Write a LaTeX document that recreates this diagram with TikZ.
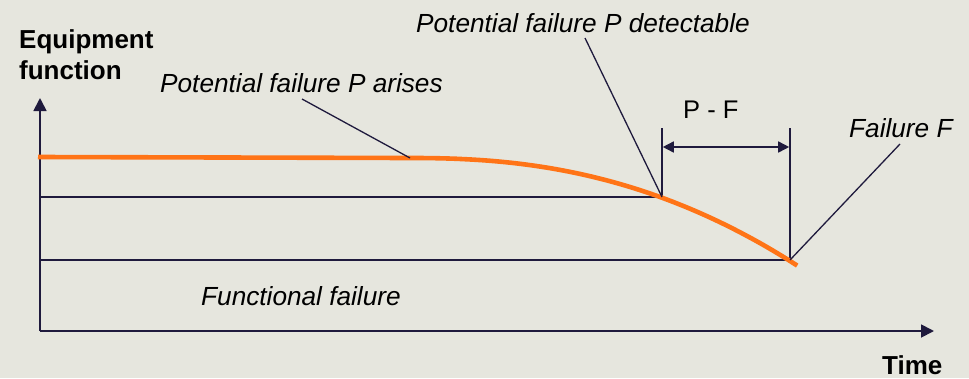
\documentclass[tikz,border=0pt]{standalone}
\usepackage{fontspec}
\setmainfont{Liberation Sans}
\usetikzlibrary{arrows.meta}
\definecolor{bg}{HTML}{E6E6DE}
\definecolor{ink}{HTML}{1F1A3D}
\definecolor{wear}{HTML}{FF7417}
\tikzset{
  axis/.style={ink, line width=1.8pt, -{Triangle[length=13pt,width=13pt]}},
  guide/.style={ink, line width=1.6pt},
  leader/.style={ink, line width=1.3pt},
  lbl/.style={inner sep=0pt, anchor=base west, font=\fontsize{26.2}{30}\selectfont\itshape},
  title/.style={inner sep=0pt, anchor=base west, align=left, font=\fontsize{26}{31}\selectfont\bfseries},
}
\begin{document}
\begin{tikzpicture}[x=1pt, y=-1pt]
  \fill[bg] (0,0) rectangle (969,378);
  \useasboundingbox (0,0) rectangle (969,378);

  % key points on the condition curve
  \coordinate (O) at (40,331);
  \coordinate (P) at (662,197);
  \coordinate (F) at (790,260);
  \coordinate (Pa) at (410,158);

  % axes
  \draw[axis] (40,331) -- (40,98);
  \draw[axis] (40,331) -- (934,331);

  % threshold lines
  \draw[guide] (40,197) -- (P);
  \draw[guide] (40,260) -- (F);

  % P-F interval
  \coordinate (Pt) at (662,128);
  \coordinate (Ft) at (790,128);
  \draw[guide] (P) -- (Pt);
  \draw[guide] (F) -- (Ft);
  \draw[guide, {Triangle[length=11pt,width=11pt]}-{Triangle[length=11pt,width=11pt]}] (662.8,147) -- (789.2,147);
  \node[inner sep=0pt, anchor=base west, font=\fontsize{25.5}{30}\selectfont] (pf) at (683,118) {P - F};

  % condition curve
  \draw[wear, line width=4.6pt] (38,157) -- (Pa)
    -- plot[domain=0.01:1.02, samples=80] ({410+380*\x},{158+103*(\x)^2.32});

  % labels
  \node[title] (ylab) at (19,79) {Equipment\\function};
  \node[title] (xlab) at (882,374) {Time};
  \node[lbl] (arise) at (160,92) {Potential failure P arises};
  \node[lbl] (detect) at (416,32) {Potential failure P detectable};
  \node[lbl] (fail) at (849,137) {Failure F};
  \node[lbl] (func) at (201,305) {Functional failure};

  % leader lines
  \coordinate (la) at (302,99);
  \coordinate (ld) at (585,38);
  \coordinate (lf) at (900,144);
  \draw[leader] (la) -- (Pa);
  \draw[leader] (ld) -- (P);
  \draw[leader] (lf) -- (F);
\end{tikzpicture}
\end{document}
